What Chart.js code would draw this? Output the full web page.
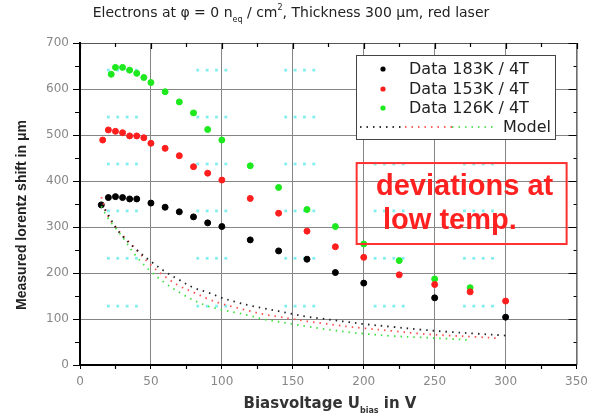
<!DOCTYPE html>
<html>
<head>
<meta charset="utf-8">
<script src="https://cdn.jsdelivr.net/npm/chart.js@4/dist/chart.umd.min.js"></script>
<style>
  html, body { margin: 0; background: #fff; }
  #wrap { width: 594px; height: 417px; }
</style>
</head>
<body>
<div id="wrap"><canvas id="c" width="594" height="417"></canvas></div>
<script>
// measured points
const bias183 = [15, 20, 25, 30, 35, 40, 50, 60, 70, 80, 90, 100, 120, 140, 160, 180, 200, 250, 300];
const shift183 = [348, 364, 366, 364, 361, 361, 352, 343, 333, 322, 309, 301, 272, 248, 230, 201, 178, 146, 104];

const bias153 = [16, 20, 25, 30, 35, 40, 45, 50, 60, 70, 80, 90, 100, 120, 140, 160, 180, 200, 225, 250, 275, 300];
const shift153 = [489, 511, 508, 505, 498, 498, 494, 482, 471, 455, 431, 417, 402, 362, 330, 291, 257, 234, 196, 175, 159, 139];

const bias126 = [22, 25, 30, 35, 40, 45, 50, 60, 70, 80, 90, 100, 120, 140, 160, 180, 200, 225, 250, 275];
const shift126 = [632, 647, 647, 641, 634, 625, 614, 594, 572, 548, 512, 489, 433, 386, 338, 301, 263, 227, 187, 168];

// model curves
const modelBias183 = [15, 20, 25, 30, 40, 50, 60, 70, 80, 90, 100, 110, 120, 130, 140, 150, 160, 170, 180, 190, 200, 220, 240, 260, 280, 300];
const modelShift183 = [350, 326, 300, 280, 250, 225, 203, 185, 168, 158, 146, 137, 129, 123, 117, 111, 105, 101, 97, 93, 89, 83, 77, 72, 68, 64];

const modelBias153 = [15, 20, 25, 30, 40, 50, 60, 70, 80, 90, 100, 110, 120, 130, 140, 150, 160, 170, 180, 190, 200, 220, 240, 260, 280, 295];
const modelShift153 = [365, 322, 300, 282, 250, 217, 192, 172, 158, 144, 133, 125, 117, 110, 105, 100, 95, 91, 87, 83, 80, 74, 68, 64, 61, 58];

const modelBias126 = [15, 20, 25, 30, 40, 50, 60, 70, 80, 90, 100, 110, 120, 130, 140, 150, 160, 170, 180, 190, 200, 220, 240, 260, 275];
const modelShift126 = [345, 318, 298, 278, 235, 203, 178, 158, 141, 128, 120, 114, 107, 99, 94, 89, 84, 79, 75, 71, 68, 63, 60, 57, 54];

const legendLabels = ["Data 183K / 4T", "Data 153K / 4T", "Data 126K / 4T", "Model"];
const noteLines = ["deviations at", "low temp."];

// faint cyan dot pattern in the background (data units)
const patternCols = [20, 83, 145, 208, 271];
const patternRows = [641, 539, 437, 335, 232, 128];

const pts = (xs, ys) => xs.map((x, i) => ({ x: x, y: ys[i] }));

const BLACK = "#000000", RED = "#ff1e1e", GREEN = "#1ee81e";

function runs(ctx, parts, x, y, align) {
  // parts: [text, font, dy]
  let w = 0;
  parts.forEach(p => { ctx.font = p[1]; w += ctx.measureText(p[0]).width; });
  let cx = align === "center" ? x - w / 2 : x;
  parts.forEach(p => {
    ctx.font = p[1];
    ctx.fillText(p[0], cx, y + (p[2] || 0));
    cx += ctx.measureText(p[0]).width;
  });
}

const decor = {
  id: "decor",
  beforeDatasetsDraw(chart) {
    const { ctx, scales: { x, y } } = chart;
    ctx.save();
    ctx.fillStyle = "#84eeee";
    patternRows.forEach(r => {
      patternCols.forEach(c => {
        for (let k = 0; k < 4; k++) {
          const px = x.getPixelForValue(c + k * 6.6);
          const py = y.getPixelForValue(r);
          ctx.fillRect(px - 1.4, py - 1.4, 2.8, 2.8);
        }
      });
    });
    ctx.restore();
  },
  afterDraw(chart) {
    const { ctx, chartArea: a, scales: { x, y } } = chart;
    ctx.save();

    // frame
    ctx.strokeStyle = "#555";
    ctx.lineWidth = 1;
    ctx.beginPath();
    ctx.moveTo(a.left, a.top + 0.5); ctx.lineTo(a.right + 0.5, a.top + 0.5);
    ctx.lineTo(a.right + 0.5, a.bottom);
    ctx.stroke();

    // ticks: minor outside left/bottom, major + minor inside top/right
    ctx.strokeStyle = "#000";
    ctx.lineWidth = 1.2;
    ctx.beginPath();
    for (let v = 0; v <= 700; v += 50) {
      const py = Math.round(y.getPixelForValue(v)) + 0.5;
      const major = v % 100 === 0;
      if (!major) { ctx.moveTo(a.left - 5, py); ctx.lineTo(a.left, py); }
      ctx.moveTo(a.right, py); ctx.lineTo(a.right - (major ? 8 : 3), py);
    }
    for (let v = 0; v <= 350; v += 25) {
      const px = Math.round(x.getPixelForValue(v)) + 0.5;
      const major = v % 50 === 0;
      if (!major) { ctx.moveTo(px, a.bottom); ctx.lineTo(px, a.bottom + 4); }
      ctx.moveTo(px, a.top); ctx.lineTo(px, a.top + (major ? 6 : 4));
    }
    ctx.stroke();

    // title
    ctx.fillStyle = "#222";
    ctx.textBaseline = "alphabetic";
    const tf = "14px 'DejaVu Sans'", ts = "8px 'DejaVu Sans'";
    runs(ctx, [
      ["Electrons at \u03c6 = 0 n", tf, 0], ["eq", ts, 5], [" / cm", tf, 0], ["2", ts, -7],
      [", Thickness 300 \u03bcm, red laser", tf, 0]
    ], 291, 17, "center");

    // x axis title
    ctx.fillStyle = "#333";
    const xf = "bold 15px 'DejaVu Sans'", xs = "bold 8px 'DejaVu Sans'";
    runs(ctx, [["Biasvoltage U", xf, 0], ["bias", xs, 5], [" in V", xf, 0]], 330, 408, "center");

    // y axis title
    ctx.save();
    ctx.translate(26, 215);
    ctx.rotate(-Math.PI / 2);
    ctx.fillStyle = "#222";
    ctx.font = "bold 14px 'Liberation Sans'";
    ctx.textAlign = "center";
    ctx.fillText("Measured lorentz shift in \u03bcm", 0, 0);
    ctx.restore();

    // legend
    const lx = 356, ly = 55, lw = 199, lh = 84;
    ctx.fillStyle = "#fff";
    ctx.fillRect(lx, ly, lw, lh);
    ctx.strokeStyle = "#444";
    ctx.lineWidth = 1;
    ctx.strokeRect(lx + 0.5, ly + 0.5, lw, lh);
    const rowsY = [69, 89, 108, 127];
    const cols = [BLACK, RED, GREEN];
    ctx.font = "16px 'DejaVu Sans'";
    ctx.textBaseline = "middle";
    for (let i = 0; i < 3; i++) {
      ctx.fillStyle = cols[i];
      ctx.beginPath(); ctx.arc(383, rowsY[i], 2.6, 0, Math.PI * 2); ctx.fill();
      ctx.fillStyle = "#222";
      ctx.fillText(legendLabels[i], 409, rowsY[i] + 1);
    }
    const segs = [["#333", 360, 405], ["#ff6060", 405, 452], ["#60e060", 452, 497]];
    ctx.lineWidth = 1.8;
    ctx.setLineDash([1.5, 5]);
    segs.forEach(s => {
      ctx.strokeStyle = s[0];
      ctx.beginPath(); ctx.moveTo(s[1], rowsY[3]); ctx.lineTo(s[2], rowsY[3]); ctx.stroke();
    });
    ctx.setLineDash([]);
    ctx.fillStyle = "#222";
    ctx.textAlign = "right";
    ctx.fillText(legendLabels[3], 551, rowsY[3] + 1);
    ctx.textAlign = "left";

    // annotation box
    const bx0 = x.getPixelForValue(195), bx1 = x.getPixelForValue(343);
    const by0 = y.getPixelForValue(439), by1 = y.getPixelForValue(263);
    ctx.strokeStyle = "#ff3030";
    ctx.lineWidth = 2;
    ctx.strokeRect(bx0, by0, bx1 - bx0, by1 - by0);
    ctx.fillStyle = "#ff2020";
    ctx.font = "bold 29px 'Liberation Sans'";
    ctx.textBaseline = "alphabetic";
    ctx.fillText(noteLines[0], 376, 195);
    ctx.fillText(noteLines[1], 383, 229);

    ctx.restore();
  }
};

const modelStyle = (c) => ({
  showLine: true, pointRadius: 0, borderColor: c, borderWidth: 1.8,
  borderDash: [1.5, 5], tension: 0.35, fill: false
});

new Chart(document.getElementById("c"), {
  type: "scatter",
  data: {
    datasets: [
      Object.assign({ label: "Model 183K", data: pts(modelBias183, modelShift183) }, modelStyle("#222")),
      Object.assign({ label: "Model 153K", data: pts(modelBias153, modelShift153) }, modelStyle("#ff5050")),
      Object.assign({ label: "Model 126K", data: pts(modelBias126, modelShift126) }, modelStyle("#40e040")),
      { label: legendLabels[0], data: pts(bias183, shift183), backgroundColor: BLACK, borderColor: BLACK, pointRadius: 3 },
      { label: legendLabels[1], data: pts(bias153, shift153), backgroundColor: RED, borderColor: RED, pointRadius: 3 },
      { label: legendLabels[2], data: pts(bias126, shift126), backgroundColor: GREEN, borderColor: GREEN, pointRadius: 3 }
    ]
  },
  options: {
    responsive: false,
    animation: false,
    layout: { padding: { top: 43, right: 12, left: 0, bottom: 0 } },
    plugins: { legend: { display: false }, title: { display: false }, tooltip: { enabled: false } },
    scales: {
      x: {
        type: "linear", min: 0, max: 350,
        ticks: { stepSize: 50, color: "#888", font: { family: "DejaVu Sans", size: 12 }, padding: 6 },
        grid: { color: "#858585", tickColor: "#000", tickLength: 4 },
        border: { color: "#000", width: 2 },
        afterFit: (s) => { s.height = 52; }
      },
      y: {
        min: 0, max: 700,
        ticks: { stepSize: 100, color: "#888", font: { family: "DejaVu Sans", size: 12 }, padding: 4 },
        grid: { color: "#858585", tickColor: "#000", tickLength: 7 },
        border: { color: "#000", width: 2 },
        afterFit: (s) => { s.width = 80; }
      }
    }
  },
  plugins: [decor]
});
</script>
</body>
</html>
